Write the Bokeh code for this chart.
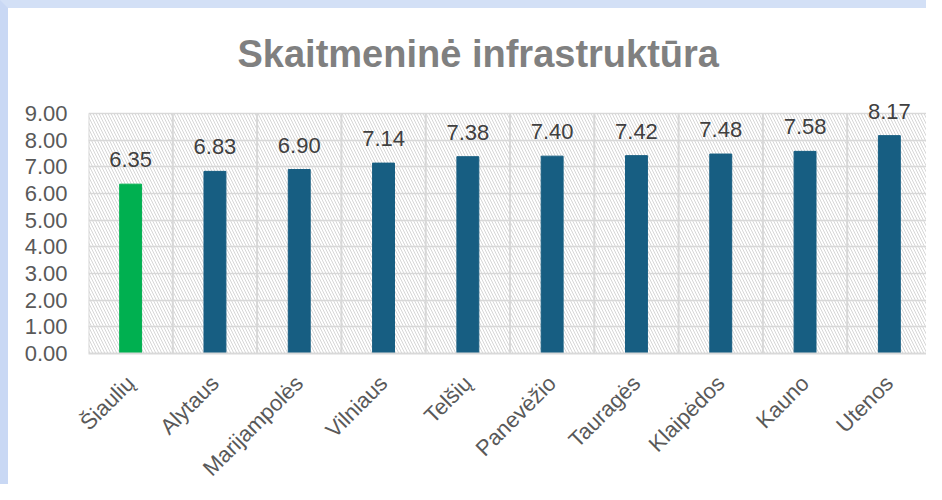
import math
from bokeh.plotting import figure
from bokeh.models import (ColumnDataSource, FixedTicker, NumeralTickFormatter,
                          Range1d, LabelSet, BoxAnnotation)
from bokeh.embed import file_html
from bokeh.resources import INLINE
from bokeh.core.properties import value

# ---- data ----
regions = ["Šiaulių", "Alytaus", "Marijampolės", "Vilniaus", "Telšių",
           "Panevėžio", "Tauragės", "Klaipėdos", "Kauno", "Utenos"]
scores = [6.35, 6.83, 6.90, 7.14, 7.38, 7.40, 7.42, 7.48, 7.58, 8.17]
bar_colors = ["#00B050"] + ["#175E82"] * 9
y_ticks = [0, 1, 2, 3, 4, 5, 6, 7, 8, 9]
title_text = "Skaitmeninė infrastruktūra"

FONT = "Liberation Sans"
GRID = "#d9d9d9"
EDGE = 8  # light-blue frame strip at the top and left of the page

n = len(regions)
xs = [i + 0.5 for i in range(n)]
src = ColumnDataSource(dict(x=xs, top=scores, color=bar_colors,
                            label=[f"{v:.2f}" for v in scores]))

y_max = y_ticks[-1]
p = figure(width=926 - EDGE, height=484 - EDGE, output_backend="svg",
           toolbar_location=None,
           x_range=Range1d(0, n), y_range=Range1d(y_ticks[0], y_max + 0.75),
           min_border_left=88 - EDGE, min_border_right=3,
           min_border_top=93 - EDGE, min_border_bottom=131)
p.styles = {"border-left": f"{EDGE}px solid #c9d8f4",
            "border-top": f"{EDGE}px solid #d3e0f6",
            "box-sizing": "content-box"}

p.outline_line_color = None

# title
p.title.text = title_text
p.title.align = "left"
p.title.offset = 149
p.title.standoff = 38
p.title.text_font = FONT
p.title.text_font_size = "38px"
p.title.text_font_style = "bold"
p.title.text_color = "#808080"

# hatch background of plot area
p.add_layout(BoxAnnotation(left=0, right=n, bottom=0, top=y_max,
                           fill_color=None, line_color=None,
                           hatch_pattern="\\", hatch_color="#d6d6d6",
                           hatch_scale=6, hatch_weight=1, level="underlay"))

# grids
p.xgrid.visible = False
p.ygrid.ticker = FixedTicker(ticks=y_ticks)
p.ygrid.grid_line_color = GRID
p.ygrid.grid_line_width = 1.5
bounds = list(range(n + 1))
p.segment(x0=bounds, y0=[0] * len(bounds), x1=bounds, y1=[y_max] * len(bounds),
          line_color=GRID, line_width=2, level="underlay")

# bars
p.vbar(x="x", top="top", width=0.26, color="color", source=src)

# value labels
p.add_layout(LabelSet(x="x", y="top", text="label", source=src,
                      text_align="center", text_baseline="alphabetic",
                      y_offset=17, text_font=value(FONT),
                      text_font_size="22px", text_color="#404040"))

# y axis
ya = p.yaxis[0]
ya.ticker = FixedTicker(ticks=y_ticks)
ya.formatter = NumeralTickFormatter(format="0.00")
ya.axis_line_color = None
ya.major_tick_line_color = None
ya.minor_tick_line_color = None
ya.major_tick_out = 0
ya.major_label_standoff = 21
ya.major_label_text_font = FONT
ya.major_label_text_font_size = "22px"
ya.major_label_text_color = "#595959"

# x axis
xa = p.xaxis[0]
xa.ticker = FixedTicker(ticks=xs)
xa.major_label_overrides = {x: r for x, r in zip(xs, regions)}
xa.axis_line_color = GRID
xa.axis_line_width = 2
xa.major_tick_line_color = None
xa.minor_tick_line_color = None
xa.major_tick_out = 0
xa.major_label_standoff = 26
xa.major_label_orientation = math.pi / 4
xa.major_label_text_font = FONT
xa.major_label_text_font_size = "22px"
xa.major_label_text_color = "#595959"

open("out.html", "w").write(file_html(p, INLINE))
